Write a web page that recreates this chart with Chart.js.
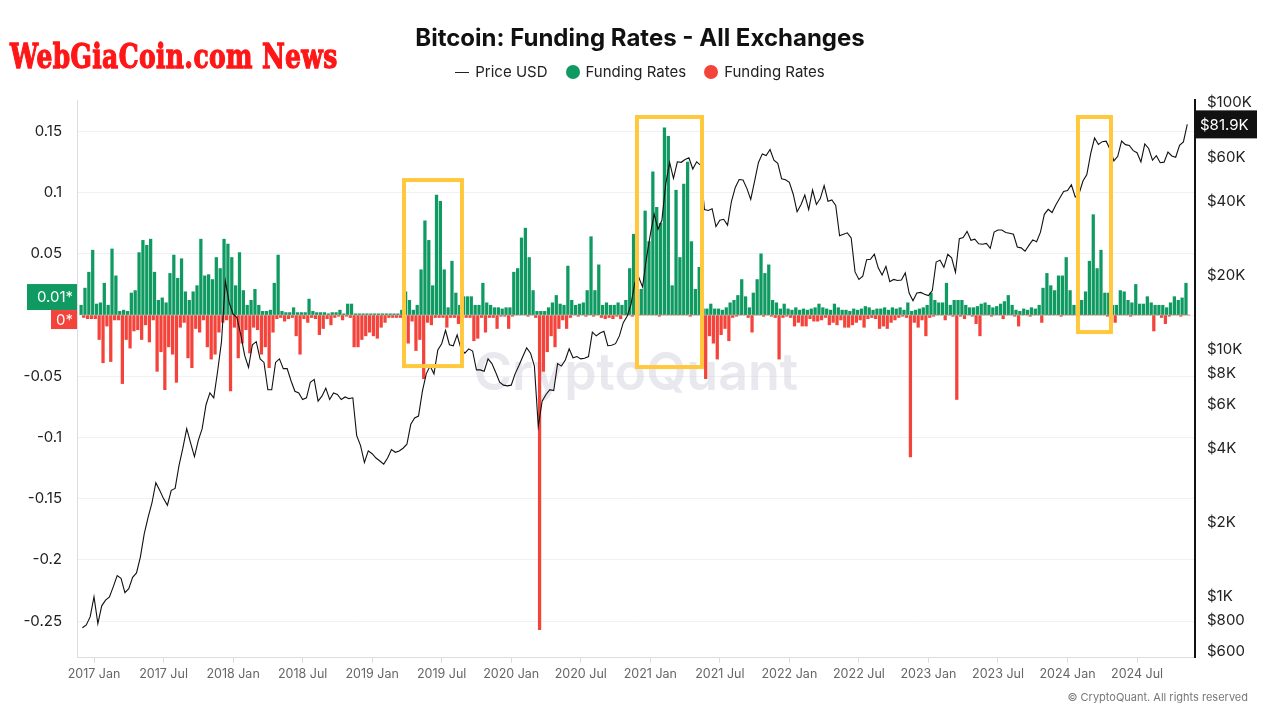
<!DOCTYPE html>
<html>
<head>
<meta charset="utf-8">
<script src="https://cdn.jsdelivr.net/npm/chart.js@4.4.1/dist/chart.umd.min.js"></script>
<style>
    html, body { margin: 0; padding: 0; background: #fff; }
    #wrap { position: relative; width: 1280px; height: 720px; overflow: hidden; font-family: Inter, Roboto, sans-serif; }
    #chart { position: absolute; left: 0; top: 0; }
    #brand { position: absolute; left: 10px; top: 36px; font-family: "DejaVu Serif", "Liberation Serif", serif; font-weight: bold; font-size: 34px; line-height: 40px; color: #ff1616; -webkit-text-stroke: 1.3px #ff1616; letter-spacing: 0.5px; transform: scaleX(0.735); transform-origin: 0 0; white-space: nowrap; }
    #title { position: absolute; left: 0; top: 23px; width: 1280px; text-align: center; font-weight: 700; font-size: 24px; line-height: 30px; color: #111; }
    #legend { position: absolute; left: 0; top: 62px; width: 1280px; display: flex; justify-content: center; align-items: center; font-size: 15px; line-height: 20px; color: #222; }
    #legend .item { display: flex; align-items: center; margin: 0 9px; }
    #legend .line { width: 14px; height: 1px; background: #222; margin-right: 6px; }
    #legend .dot { width: 14px; height: 14px; border-radius: 50%; margin-right: 6px; }
    #copy { position: absolute; right: 32px; top: 690px; font-size: 11px; color: #777; }
</style>
</head>
<body>
<div id="wrap">
    <canvas id="chart" width="1280" height="720"></canvas>
    <div id="brand">WebGiaCoin.com News</div>
    <div id="title">Bitcoin: Funding Rates - All Exchanges</div>
    <div id="legend">
        <div class="item"><span class="line"></span>Price USD</div>
        <div class="item"><span class="dot" style="background:#0f9a62"></span>Funding Rates</div>
        <div class="item"><span class="dot" style="background:#f3433a"></span>Funding Rates</div>
    </div>
    <div id="copy">© CryptoQuant. All rights reserved</div>
</div>
<script>
// one sample every ~10 days, starting Dec 2016 (x = months since 2017 Jan)
const startMonth = -1;
const stepMonth = 1 / 3;

const fundingPos = [
    0.008, 0.022, 0.035,  0.053, 0.009, 0.010,  0.026, 0.008, 0.054,  0.032, 0.003, 0.004,
    0.003, 0.018, 0.020,  0.051, 0.061, 0.057,  0.062, 0.035, 0.012,  0.014, 0.010, 0.034,
    0.049, 0.030, 0.046,  0.019, 0.012, 0.019,  0.024, 0.062, 0.032,  0.033, 0.029, 0.047,
    0.038, 0.062, 0.058,  0.047, 0.024, 0.051,  0.020, 0.008, 0.012,  0.021, 0.008, 0.003,
    0.003, 0.004, 0.026,  0.049, 0.003, 0.002,  0.002, 0.006, 0.002,  0.002, 0.002, 0.013,
    0.003, 0.002, 0.002,  0.002, 0.001, 0.002,  0.002, 0.004, 0.001,  0.009, 0.009, 0.001,
    0.001, 0.001, 0.001,  0.001, 0.001, 0.001,  0.001, 0.001, 0.001,  0.001, 0.001, 0.004,
    0.019, 0.012, 0.004,  0.008, 0.037, 0.077,  0.061, 0.024, 0.098,  0.093, 0.037, 0.006,
    0.044, 0.018, 0.008,  0.015, 0.015, 0.015,  0.008, 0.008, 0.026,  0.010, 0.008, 0.006,
    0.006, 0.005, 0.006,  0.006, 0.035, 0.038,  0.063, 0.071, 0.047,  0.020, 0.003, 0.003,
    0.003, 0.006, 0.010,  0.016, 0.009, 0.008,  0.040, 0.012, 0.008,  0.009, 0.010, 0.020,
    0.064, 0.020, 0.041,  0.008, 0.010, 0.008,  0.008, 0.010, 0.008,  0.012, 0.038, 0.066,
    0.020, 0.021, 0.085,  0.060, 0.117, 0.088,  0.075, 0.153, 0.146,  0.024, 0.102, 0.047,
    0.107, 0.125, 0.060,  0.021, 0.039, 0.005,  0.005, 0.009, 0.005,  0.005, 0.004, 0.006,
    0.010, 0.012, 0.016,  0.029, 0.015, 0.006,  0.018, 0.029, 0.050,  0.034, 0.041, 0.012,
    0.010, 0.005, 0.009,  0.005, 0.004, 0.006,  0.004, 0.005, 0.004,  0.005, 0.006, 0.009,
    0.006, 0.005, 0.004,  0.009, 0.006, 0.004,  0.004, 0.003, 0.005,  0.004, 0.005, 0.007,
    0.006, 0.004, 0.005,  0.005, 0.006, 0.004,  0.006, 0.005, 0.006,  0.004, 0.010, 0.003,
    0.004, 0.005, 0.006,  0.008, 0.018, 0.012,  0.010, 0.010, 0.026,  0.008, 0.012, 0.012,
    0.012, 0.008, 0.006,  0.006, 0.007, 0.009,  0.010, 0.008, 0.006,  0.007, 0.009, 0.011,
    0.016, 0.008, 0.004,  0.003, 0.005, 0.004,  0.006, 0.005, 0.008,  0.022, 0.034, 0.024,
    0.020, 0.032, 0.032,  0.047, 0.020, 0.008,  0.012, 0.012, 0.019,  0.044, 0.082, 0.038,
    0.053, 0.018, 0.018,  0.008, 0.008, 0.020,  0.019, 0.012, 0.010,  0.025, 0.009, 0.009,
    0.015, 0.010, 0.008,  0.008, 0.008, 0.006,  0.010, 0.015, 0.012,  0.014, 0.026
];

const fundingNeg = [
    -0.002, -0.003, -0.003,  -0.003, -0.020, -0.039,  -0.009, -0.038, -0.004,  -0.004, -0.056, -0.020,
    -0.027, -0.013, -0.012,  -0.020, -0.008, -0.022,  -0.004, -0.046, -0.030,  -0.061, -0.026, -0.032,
    -0.055, -0.010, -0.006,  -0.035, -0.043, -0.011,  -0.014, -0.004, -0.026,  -0.036, -0.032, -0.014,
    -0.006, -0.004, -0.062,  -0.010, -0.035, -0.023,  -0.012, -0.031, -0.010,  -0.012, -0.032, -0.026,
    -0.043, -0.014, -0.003,  -0.002, -0.005, -0.003,  -0.002, -0.017, -0.032,  -0.003, -0.006, -0.002,
    -0.003, -0.016, -0.011,  -0.003, -0.008, -0.002,  -0.001, -0.004, -0.001,  -0.002, -0.026, -0.026,
    -0.020, -0.017, -0.014,  -0.017, -0.019, -0.010,  -0.006, -0.002, -0.002,  -0.002, -0.002, -0.004,
    -0.023, -0.005, -0.029,  -0.020, -0.052, -0.006,  -0.008, -0.002, -0.002,  -0.002, -0.010, -0.002,
    -0.002, -0.007, -0.002,  -0.002, -0.002, -0.021,  -0.019, -0.002, -0.014,  -0.002, -0.002, -0.011,
    -0.001, -0.001, -0.011,  -0.001, 0, 0,  0, -0.001, 0,  -0.002, -0.257, -0.046,
    -0.030, -0.017, -0.026,  -0.011, -0.004, -0.011,  -0.002, 0, -0.001,  0, -0.001, 0,
    -0.001, 0, -0.002,  -0.003, -0.002, -0.003,  -0.001, -0.003, 0,  0, -0.001, 0,
    0, 0, 0,  0, 0, -0.001,  0, 0, 0,  0, 0, 0,
    0, -0.001, 0,  0, -0.002, -0.052,  -0.017, -0.023, -0.036,  -0.016, -0.011, -0.021,
    -0.002, -0.001, 0,  0, -0.002, -0.014,  0, 0, -0.001,  0, -0.001, -0.002,
    -0.036, -0.002, -0.001,  -0.002, -0.009, -0.006,  -0.009, -0.009, -0.003,  -0.005, -0.005, -0.004,
    -0.002, -0.008, -0.006,  -0.008, -0.004, -0.010,  -0.010, -0.008, -0.006,  -0.004, -0.010, -0.003,
    -0.002, -0.003, -0.011,  -0.009, -0.011, -0.006,  -0.004, -0.002, -0.001,  -0.002, -0.116, -0.006,
    -0.010, -0.004, -0.017,  -0.002, -0.001, 0,  0, -0.004, 0,  -0.001, -0.069, -0.001,
    -0.003, 0, -0.001,  -0.007, -0.017, 0,  0, -0.001, 0,  0, -0.003, 0,
    0, -0.001, -0.009,  0, 0, -0.001,  0, 0, -0.006,  0, 0, 0,
    0, -0.001, 0,  0, 0, 0,  0, 0, 0,  0, 0, 0,
    0, -0.001, 0,  -0.006, 0, 0,  0, -0.001, 0,  0, 0, 0,
    0, -0.013, 0,  -0.002, -0.007, -0.001,  0, 0, -0.001,  0, 0
];

const priceUsd = [
    750, 770, 830,  1000, 780, 920,  970, 1000, 1100,  1220, 1190, 1040,
    1080, 1200, 1250,  1450, 1800, 2100,  2400, 2900, 2700,  2500, 2350, 2700,
    2750, 3400, 4000,  4800, 4200, 3700,  4300, 4800, 6000,  6700, 6400, 8200,
    10800, 19000, 15500,  14000, 13500, 11500,  9500, 8500, 10500,  10800, 9200, 8900,
    6900, 6900, 8900,  9200, 8400, 8400,  7500, 6800, 6700,  6300, 6400, 7400,
    7600, 6200, 6500,  7000, 6300, 6700,  6600, 6300, 6450,  6350, 6400, 4500,
    4100, 3500, 3900,  3800, 3650, 3550,  3450, 3650, 3950,  3850, 3900, 4000,
    4150, 5000, 5300,  5400, 6800, 8000,  8600, 8000, 10000,  10600, 12000, 10500,
    10400, 11500, 10100,  9700, 10100, 9900,  8300, 8300, 8200,  9200, 8800, 8100,
    7400, 7200, 7150,  7200, 8000, 8650,  9400, 10200, 9700,  8600, 4900, 6200,
    6600, 6900, 6850,  8800, 8600, 9100,  10100, 9300, 9400,  9200, 9250, 9400,
    11800, 11400, 11700,  11900, 10400, 10450,  10600, 11400, 12900,  13700, 15300, 18700,
    19700, 18000, 23500,  29300, 35500, 30800,  33500, 47000, 57500,  49500, 57800, 57500,
    59000, 60000, 54000,  57800, 56000, 37000,  36700, 37300, 31600,  33500, 33800, 32000,
    39900, 45500, 49000,  48800, 45100, 40700,  48200, 57400, 62200,  61300, 64800, 58700,
    57000, 49300, 48900,  47700, 42700, 36300,  38700, 42400, 37000,  44400, 38800, 41000,
    46300, 40000, 40500,  38500, 29000, 29400,  29800, 28400, 20700,  19300, 19900, 23200,
    23300, 24400, 21500,  20100, 21800, 18900,  19300, 19100, 19200,  20500, 17000, 15800,
    17000, 17100, 16800,  16600, 17400, 22700,  23100, 21600, 24400,  23600, 20600, 28200,
    28500, 30200, 27800,  28100, 26900, 26800,  27000, 25800, 30000,  30600, 30600, 29900,
    29700, 29400, 26100,  25900, 25100, 26500,  27900, 27400, 30000,  35400, 37100, 36000,
    38700, 41200, 43800,  44200, 46600, 41600,  43000, 48300, 51300,  62400, 72100, 67900,
    69700, 70000, 64900,  58300, 60800, 70100,  67800, 67300, 64100,  62900, 57700, 68200,
    65400, 58700, 61200,  57300, 57600, 63300,  61000, 60300, 67400,  69500, 81900
];

const xTicks = [0, 6, 12, 18, 24, 30, 36, 42, 48, 54, 60, 66, 72, 78, 84, 90];
const rateTicks = [-0.25, -0.2, -0.15, -0.1, -0.05, 0, 0.05, 0.1, 0.15];
const priceTicks = [600, 800, 1000, 2000, 4000, 6000, 8000, 10000, 20000, 40000, 60000, 100000];

const lastPriceLabel = "$81.9K";
const posTagLabel = "0.01*";
const negTagLabel = "0*";

// highlighted periods (months / funding rate)
const highlights = [
    { from: 26.75, to: 31.75, top: 0.1103, bottom: -0.0417 },
    { from: 46.85, to: 52.46, top: 0.1618, bottom: -0.0425 },
    { from: 84.9, to: 87.75, top: 0.1618, bottom: -0.0139 }
];

const months = priceUsd.map((_, i) => startMonth + i * stepMonth);

function formatPrice(v) {
    if (v >= 1000) return "$" + (v / 1000) + "K";
    return "$" + v;
}

const decorations = {
    id: "decorations",
    beforeDatasetsDraw(chart) {
        const c = chart.ctx;
        c.save();
        c.font = "600 52px Inter";
        c.fillStyle = "rgba(205, 205, 218, 0.45)";
        c.textAlign = "center";
        c.textBaseline = "middle";
        c.fillText("CryptoQuant", 636, 374);
        c.restore();
    },
    afterDatasetsDraw(chart) {
        const c = chart.ctx;
        const xs = chart.scales.x;
        const ys = chart.scales.y;
        c.save();
        c.strokeStyle = "#ffc83d";
        c.lineWidth = 4;
        highlights.forEach(h => {
            const x0 = xs.getPixelForValue(h.from);
            const x1 = xs.getPixelForValue(h.to);
            const y0 = ys.getPixelForValue(h.top);
            const y1 = ys.getPixelForValue(h.bottom);
            c.strokeRect(x0, y0, x1 - x0, y1 - y0);
        });
        c.restore();
    },
    afterDraw(chart) {
        const c = chart.ctx;
        const ys = chart.scales.y;
        const yp = chart.scales.yPrice;
        c.save();
        c.font = "15px Inter";
        c.textBaseline = "middle";

        const py = yp.getPixelForValue(priceUsd[priceUsd.length - 1]);
        c.fillStyle = "#111";
        c.fillRect(1196, py - 14, 61, 28);
        c.fillStyle = "#fff";
        c.textAlign = "left";
        c.fillText(lastPriceLabel, 1200, py + 1);

        const z = ys.getPixelForValue(0);
        c.fillStyle = "#0f9a62";
        c.fillRect(27, z - 31, 50, 26);
        c.fillStyle = "#f3433a";
        c.fillRect(51, z - 5, 26, 19);
        c.fillStyle = "#fff";
        c.textAlign = "right";
        c.fillText(posTagLabel, 73, z - 18);
        c.fillText(negTagLabel, 73, z + 5);
        c.restore();
    }
};

const ctx = document.getElementById("chart").getContext("2d");

new Chart(ctx, {
    data: {
        datasets: [
            {
                type: "line",
                label: "Price USD",
                data: months.map((m, i) => ({ x: m, y: priceUsd[i] })),
                yAxisID: "yPrice",
                borderColor: "#111",
                borderWidth: 1.1,
                pointRadius: 0,
                tension: 0,
                order: 0
            },
            {
                type: "bar",
                label: "Funding Rates",
                data: months.map((m, i) => ({ x: m, y: fundingPos[i] })),
                yAxisID: "y",
                backgroundColor: "#0f9a62",
                barThickness: 2.6,
                order: 1
            },
            {
                type: "bar",
                label: "Funding Rates",
                data: months.map((m, i) => ({ x: m, y: fundingNeg[i] })),
                yAxisID: "y",
                backgroundColor: "#f3433a",
                barThickness: 2.6,
                order: 2
            }
        ]
    },
    options: {
        responsive: false,
        animation: false,
        devicePixelRatio: 1,
        layout: { padding: { top: 100, bottom: 23, left: 0, right: 0 } },
        plugins: {
            legend: { display: false },
            title: { display: false },
            tooltip: { enabled: false }
        },
        scales: {
            x: {
                type: "linear",
                offset: false,
                min: -1.467,
                max: 95.0,
                afterBuildTicks: s => { s.ticks = xTicks.map(v => ({ value: v })); },
                afterFit: s => { s.height = 40; },
                ticks: {
                    autoSkip: false,
                    maxRotation: 0,
                    color: "#666",
                    font: { family: "Inter", size: 12.5 },
                    padding: 4,
                    callback: v => (2017 + Math.floor(v / 12)) + (v % 12 === 0 ? " Jan" : " Jul")
                },
                grid: { offset: false, drawOnChartArea: false, drawTicks: true, tickLength: 6, color: "#dcdce2" },
                border: { color: "#dcdce2" }
            },
            y: {
                position: "left",
                min: -0.2794,
                max: 0.1757,
                afterBuildTicks: s => { s.ticks = rateTicks.map(v => ({ value: v })); },
                afterFit: s => { s.width = 77; },
                ticks: {
                    color: "#222",
                    font: { family: "Inter", size: 15 },
                    padding: 15,
                    callback: v => (v === 0 ? "" : String(Math.round(v * 100) / 100))
                },
                grid: { color: "#f1f1f3", drawTicks: false },
                border: { color: "#dcdce2" }
            },
            yPrice: {
                type: "logarithmic",
                position: "right",
                min: 571,
                max: 102800,
                afterBuildTicks: s => { s.ticks = priceTicks.map(v => ({ value: v })); },
                afterFit: s => { s.width = 85; },
                ticks: {
                    color: "#222",
                    font: { family: "Inter", size: 15 },
                    padding: 12,
                    callback: v => formatPrice(v)
                },
                grid: { display: false, drawTicks: false },
                border: { color: "#111", width: 2 }
            }
        }
    },
    plugins: [decorations]
});
</script>
</body>
</html>
